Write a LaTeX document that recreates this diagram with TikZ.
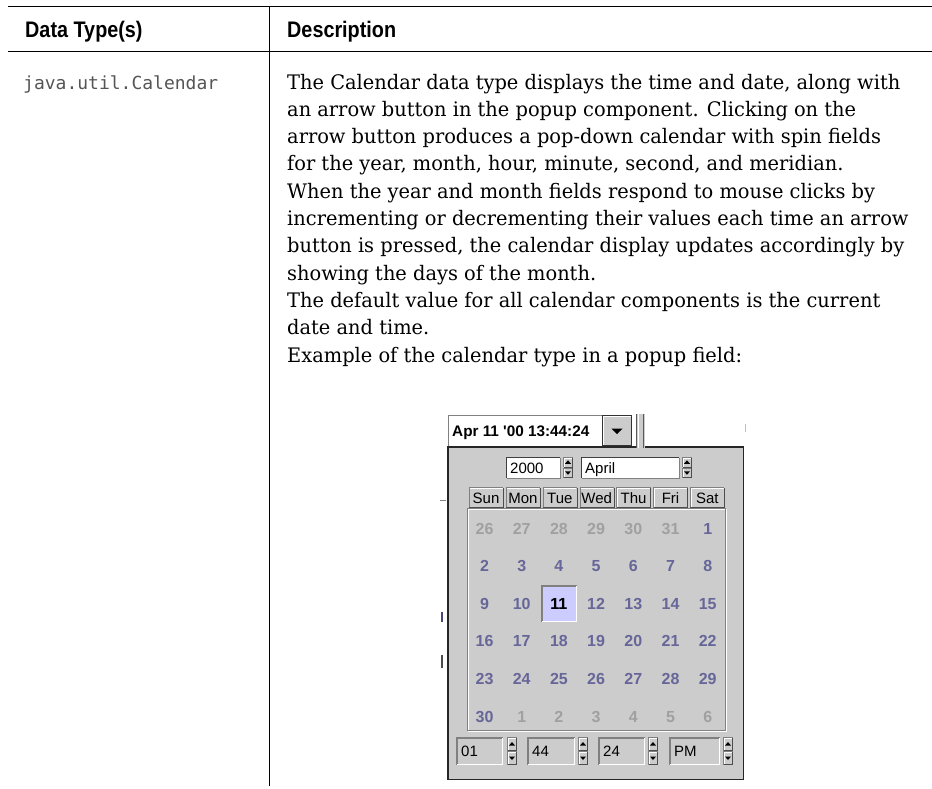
\documentclass[tikz,border=0pt]{standalone}
\usepackage{fontspec}
\newfontfamily\bodyfont[FakeStretch=0.97]{DejaVu Serif}
\newfontfamily\headfont[FakeStretch=0.88]{Liberation Sans}
\newfontfamily\monofont{DejaVu Sans Mono}
\newfontfamily\uifont{Liberation Sans}

\definecolor{uigray}{RGB}{204,204,204}
\definecolor{uidark}{RGB}{128,128,128}
\definecolor{daycol}{RGB}{102,102,153}
\definecolor{offcol}{RGB}{160,160,160}
\definecolor{selfill}{RGB}{204,204,255}
\definecolor{monocol}{RGB}{85,85,85}
\definecolor{stray}{RGB}{70,70,120}

% raised (button-like) box: corners x1,y1,x2,y2 (y grows downward)
\newcommand\uiraised[4]{%
  \fill[uigray] (#1,#2) rectangle (#3,#4);
  \draw[white] (#1+1,#4-1) -- (#1+1,#2+1) -- (#3-1,#2+1);
  \draw[uidark] (#1+0.5,#4-0.5) -- (#1+0.5,#2+0.5) -- (#3-0.5,#2+0.5);
  \draw[uidark!60!black] (#1+0.5,#4-0.5) -- (#3-0.5,#4-0.5) -- (#3-0.5,#2+0.5);
}
% sunken box outline
\newcommand\uisunken[4]{%
  \draw[uidark] (#1+0.5,#4) -- (#1+0.5,#2+0.5) -- (#3,#2+0.5);
  \draw[white] (#1+0.5,#4-0.5) -- (#3-0.5,#4-0.5) -- (#3-0.5,#2+0.5);
}
% two-part spin button: x, y, height
\newcommand\uispin[3]{%
  \pgfmathsetmacro\spmid{#2+#3/2}%
  \pgfmathsetmacro\spbot{#2+#3}%
  \pgfmathsetmacro\spup{#2+#3/4}%
  \pgfmathsetmacro\spdn{#2+3*#3/4}%
  \uiraised{#1}{#2}{#1+10}{\spmid}
  \uiraised{#1}{\spmid}{#1+10}{\spbot}
  \fill[black] (#1+5,\spup-2) -- (#1+8,\spup+1.5) -- (#1+2,\spup+1.5) -- cycle;
  \fill[black] (#1+5,\spdn+2) -- (#1+8,\spdn-1.5) -- (#1+2,\spdn-1.5) -- cycle;
}

\tikzset{
  hdr/.style={font=\headfont\bfseries\fontsize{22.5}{26}\selectfont, inner sep=0, anchor=base west},
  bodytext/.style={font=\bodyfont\fontsize{20}{27}\selectfont, inner sep=0, anchor=base west},
  monotext/.style={font=\monofont\fontsize{18}{22}\selectfont, text=monocol, inner sep=0, anchor=base west},
  uitext/.style={font=\uifont\fontsize{15}{18}\selectfont, inner sep=0},
  uibold/.style={font=\uifont\bfseries\fontsize{15.3}{18}\selectfont, inner sep=0},
  daynum/.style={font=\uifont\bfseries\fontsize{16}{19}\selectfont, text=daycol, inner sep=0, anchor=base},
  offday/.style={daynum, text=offcol},
  selday/.style={daynum, text=black},
}

\begin{document}
\begin{tikzpicture}[x=1pt,y=-1pt]
\useasboundingbox (0,0) rectangle (932,788);
\fill[white] (0,0) rectangle (932,788);

% ---- table frame ----
\draw[line width=1.6pt] (8,6.5) -- (932,6.5);
\draw[line width=0.9pt] (8,51.5) -- (932,51.5);
\draw[line width=0.9pt] (269.5,6) -- (269.5,786);

% ---- header ----
\node[hdr] (hdrtype) at (25,37.5) {Data Type(s)};
\node[hdr] (hdrdesc) at (287,37.5) {Description};

% ---- row ----
\node[monotext] (typename) at (23,89) {java.util.Calendar};

\foreach \t [count=\i from 0] in {
  {The Calendar data type displays the time and date, along with},
  {an arrow button in the popup component. Clicking on the},
  {arrow button produces a pop-down calendar with spin fields},
  {for the year, month, hour, minute, second, and meridian.},
  {When the year and month fields respond to mouse clicks by},
  {incrementing or decrementing their values each time an arrow},
  {button is pressed, the calendar display updates accordingly by},
  {showing the days of the month.},
  {The default value for all calendar components is the current},
  {date and time.},
  {Example of the calendar type in a popup field:}}
  \node[bodytext] (line\i) at (287,89+27.3*\i) {\t};

% ---- calendar popup ----
% stray marks of the screen behind the popup
\draw[uidark, line width=1pt] (440,500.5) -- (446,500.5);
\draw[stray, line width=1.5pt] (442,612) -- (442,622);
\draw[black!70, line width=1.2pt] (442,655) -- (442,668);
\draw[black!25, line width=0.8pt] (745,424) -- (745,432);

\draw[fill=uigray, line width=1.5pt, draw=black!85] (447.75,446.75) rectangle (743.25,779.25);

% date field with drop-down button
\fill[white] (448,415) rectangle (602,446);
\draw[uidark] (448.5,446) -- (448.5,415.5) -- (602,415.5);
\node[uibold, anchor=base west] (datefield) at (452,436) {Apr 11 '00 13:44:24};
\uiraised{602}{415}{632}{446}
\draw[black!80] (602.5,415.5) rectangle (631.5,445.5);
\fill[black] (611.5,428.5) -- (622.5,428.5) -- (617,434) -- cycle;
\fill[uigray] (636,414) rectangle (645,448);
\draw[uidark!70!black] (636.5,414) -- (636.5,448) (643.5,414) -- (643.5,448);
\draw[white] (638,414) -- (638,448);

% year and month spin fields
\fill[white] (506,457) rectangle (560,478);
\draw[black!75] (506.5,478) -- (506.5,457.5) -- (560,457.5);
\draw[uidark] (560,457.5) -- (560,478) -- (506.5,478);
\node[uitext, anchor=base west] (year) at (510,473) {2000};
\uispin{563}{457}{21}

\fill[white] (581,457) rectangle (679,478);
\draw[black!75] (581.5,478) -- (581.5,457.5) -- (679,457.5);
\draw[uidark] (679,457.5) -- (679,478) -- (581.5,478);
\node[uitext, anchor=base west] (month) at (585,473) {April};
\uispin{682}{457}{21}

% day grid frame (etched)
\draw[white] (468.5,509.5) rectangle (726.5,731.5);
\draw[uidark] (467.5,508.5) rectangle (725.5,730.5);

% weekday header
\foreach \n [count=\c from 0] in {Sun,Mon,Tue,Wed,Thu,Fri,Sat} {
  \pgfmathsetmacro\xl{468+36.9*\c+0.5}
  \pgfmathsetmacro\xr{\xl+35}
  \uiraised{\xl}{487}{\xr}{508}
  \node[uitext, anchor=base] (wd\c) at ({(\xl+\xr)/2},503) {\n};
}

% selected day
\fill[selfill] (541,585) rectangle (577,622);
\draw[uidark, line width=1.5pt] (541.75,622) -- (541.75,585.75) -- (577,585.75);
\draw[white, line width=1.2pt] (541.75,621.4) -- (576.4,621.4) -- (576.4,586);

% day numbers
\foreach \d [count=\c from 0] in {26,27,28,29,30,31}
  \node[offday] (day0\c) at (484.5+37.2*\c,534) {\d};
\node[daynum] (day06) at (484.5+37.2*6,534) {1};
\foreach \d [count=\c from 0] in {2,...,8}
  \node[daynum] (day1\c) at (484.5+37.2*\c,571.6) {\d};
\foreach \d [count=\c from 0] in {9,10,11,12,13,14,15}
  \node[daynum] (day2\c) at (484.5+37.2*\c,609.2) {\d};
\node[selday] (today) at (484.5+37.2*2,609.2) {11};
\foreach \d [count=\c from 0] in {16,...,22}
  \node[daynum] (day3\c) at (484.5+37.2*\c,646.8) {\d};
\foreach \d [count=\c from 0] in {23,...,29}
  \node[daynum] (day4\c) at (484.5+37.2*\c,684.4) {\d};
\node[daynum] (day50) at (484.5,722) {30};
\foreach \d [count=\c from 1] in {1,...,6}
  \node[offday] (day5\c) at (484.5+37.2*\c,722) {\d};

% time spin fields
\foreach \xa/\xb/\v [count=\k] in {456/503/01, 527/575/44, 598/645/24, 669/720/PM} {
  \uisunken{\xa}{737}{\xb}{765}
  \draw[uidark] (\xa+1.5,764) -- (\xa+1.5,738.5) -- (\xb-1,738.5);
  \node[uitext, anchor=base west] (time\k) at (\xa+5,756.5) {\v};
}
\uispin{507}{737}{28}
\uispin{578}{737}{28}
\uispin{648}{737}{28}
\uispin{723}{737}{28}
\end{tikzpicture}
\end{document}
